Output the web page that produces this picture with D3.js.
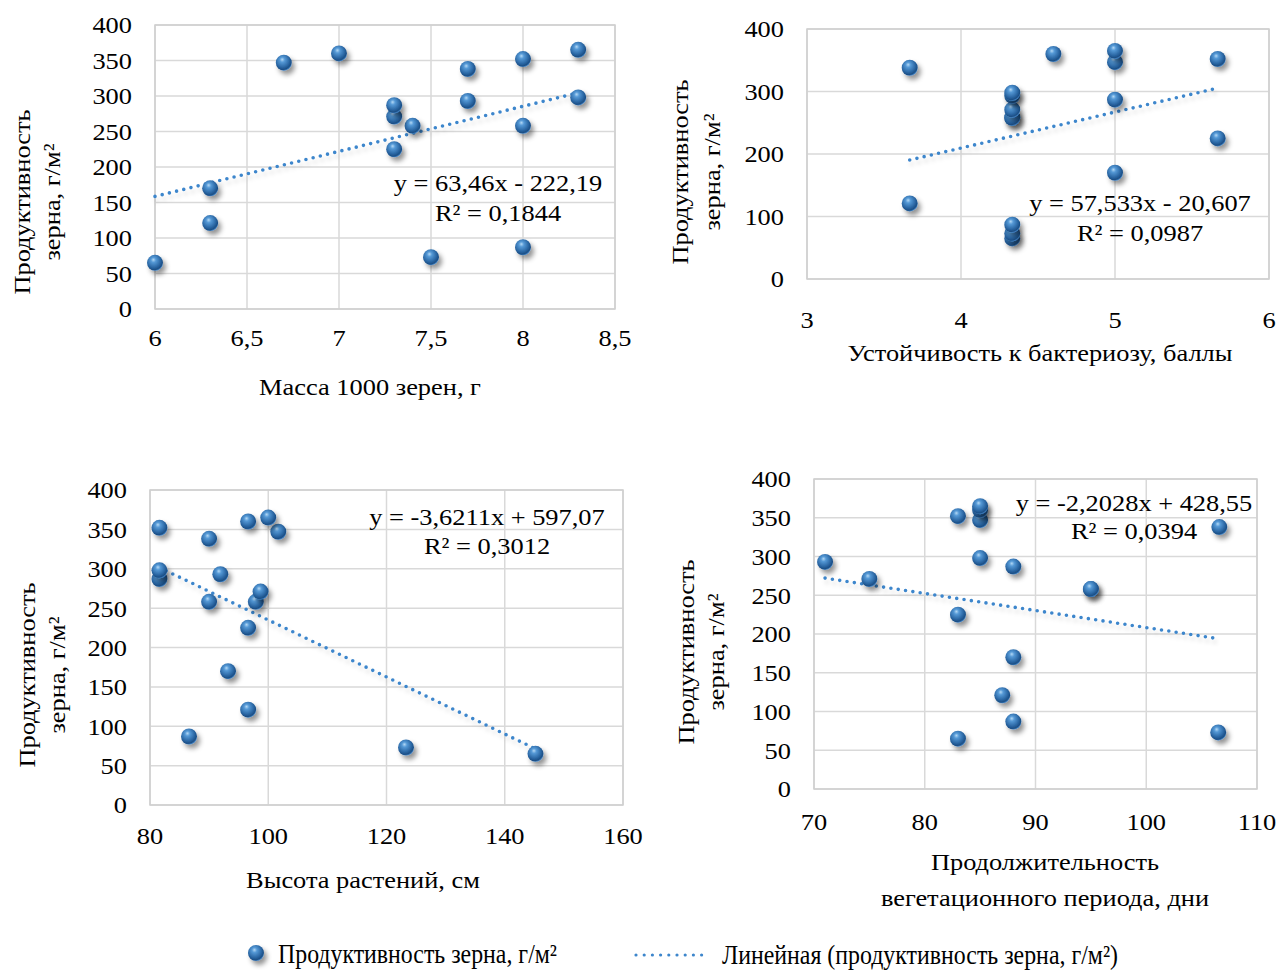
<!DOCTYPE html>
<html>
<head>
<meta charset="utf-8">
<script src="https://cdn.jsdelivr.net/npm/d3@7"></script>
<style>
  body { margin: 0; background: #fff; }
  svg { display: block; font-family: "Liberation Serif", "Times New Roman", serif; }
</style>
</head>
<body>
<svg id="chart" width="1279" height="970"></svg>
<script>
// ---- data ----
const productivity      = [65, 73, 87, 121, 170, 225, 258, 258, 271, 287, 293, 298, 338, 347, 352, 360, 365];
const kernelMass        = [6.0, 7.5, 8.0, 6.3, 6.3, 7.3, 7.4, 8.0, 7.3, 7.3, 7.7, 8.3, 7.7, 6.7, 8.0, 7.0, 8.3];
const bacteriosis       = [4.333, 4.333, 4.333, 3.667, 5.0, 5.667, 4.333, 4.333, 4.333, 5.0, 4.333, 4.333, 3.667, 5.0, 5.667, 4.6, 5.0];
const plantHeight       = [145.2, 123.3, 86.6, 96.6, 93.2, 96.6, 97.9, 90.0, 98.7, 81.6, 91.9, 81.6, 90.0, 101.7, 81.6, 96.6, 100.0];
const vegetationPeriod  = [83, 106.5, 88, 87, 88, 83, 95, 95, 75, 88, 71, 85, 106.6, 85, 83, 85, 85];

const yTicks = [0, 50, 100, 150, 200, 250, 300, 350, 400];
const yTicks100 = [0, 100, 200, 300, 400];
const xTicks1 = [6, 6.5, 7, 7.5, 8, 8.5];
const xTicks2 = [3, 4, 5, 6];
const xTicks3 = [80, 100, 120, 140, 160];
const xTicks4 = [70, 80, 90, 100, 110];

const slopes     = [63.46, 57.533, -3.6211, -2.2028];
const intercepts = [-222.19, -20.607, 597.07, 428.55];
const eqLabels   = ["y = 63,46x - 222,19", "y = 57,533x - 20,607", "y = -3,6211x + 597,07", "y = -2,2028x + 428,55"];
const r2Labels   = ["R² = 0,1844", "R² = 0,0987", "R² = 0,3012", "R² = 0,0394"];

const yTitle = ["Продуктивность", "зерна, г/м²"];
const xTitles = [["Масса 1000 зерен, г"], ["Устойчивость к бактериозу, баллы"], ["Высота растений, см"], ["Продолжительность", "вегетационного периода, дни"]];
const legendLabels = ["Продуктивность зерна, г/м²", "Линейная (продуктивность зерна, г/м²)"];

const fmt = d => String(d).replace(".", ",");

// ---- layout ----
const panels = [
  { xs: kernelMass, xDom: [6, 8.5], xTicks: xTicks1, yT: yTicks, box: [155, 615, 25, 309],
    xLabY: 338, xTitleY: [387], xTitleX: 370, yTitleX: [22, 52], yTitleY: 202, eqX: 498, eqY: [183, 213] },
  { xs: bacteriosis, xDom: [3, 6], xTicks: xTicks2, yT: yTicks100, box: [807, 1269, 29, 279],
    xLabY: 320, xTitleY: [353], xTitleX: 1040, yTitleX: [680, 712], yTitleY: 172, eqX: 1140, eqY: [203, 233] },
  { xs: plantHeight, xDom: [80, 160], xTicks: xTicks3, yT: yTicks, box: [150, 623, 490, 805],
    xLabY: 836, xTitleY: [880], xTitleX: 363, yTitleX: [27, 57], yTitleY: 675, eqX: 487, eqY: [517, 546] },
  { xs: vegetationPeriod, xDom: [70, 110], xTicks: xTicks4, yT: yTicks, box: [814, 1257, 479, 789],
    xLabY: 822, xTitleY: [862, 898], xTitleX: 1045, yTitleX: [686, 716], yTitleY: 652, eqX: 1134, eqY: [503, 531] }
];

const svg = d3.select("#chart");
const defs = svg.append("defs");
const grad = defs.append("radialGradient").attr("id", "sphere")
  .attr("cx", "42%").attr("cy", "38%").attr("r", "62%").attr("fx", "40%").attr("fy", "30%");
grad.append("stop").attr("offset", "0%").attr("stop-color", "#b3d8f5");
grad.append("stop").attr("offset", "25%").attr("stop-color", "#5599d6");
grad.append("stop").attr("offset", "70%").attr("stop-color", "#2a66a3");
grad.append("stop").attr("offset", "90%").attr("stop-color", "#1c4f86");
grad.append("stop").attr("offset", "100%").attr("stop-color", "#3f7fbf");
const sh = defs.append("filter").attr("id", "shadow").attr("x", "-60%").attr("y", "-60%").attr("width", "240%").attr("height", "240%");
sh.append("feDropShadow").attr("dx", 3).attr("dy", 4).attr("stdDeviation", 2.6).attr("flood-color", "#000").attr("flood-opacity", 0.42);
const lsh = defs.append("filter").attr("id", "lshadow").attr("x", "-10%").attr("y", "-50%").attr("width", "120%").attr("height", "200%");
lsh.append("feDropShadow").attr("dx", 2).attr("dy", 4).attr("stdDeviation", 2).attr("flood-color", "#000").attr("flood-opacity", 0.15);

const FS = 24;
const SX = 1.1;
const gridColor = "#d9d9d9";

function label(g, x, y, s, anchor, rot) {
  return g.append("text")
    .attr("transform", `translate(${x},${y})${rot ? " rotate(-90)" : ""} scale(${SX},1)`)
    .attr("dy", "0.35em").attr("text-anchor", anchor).attr("font-size", FS).attr("fill", "#000").text(s);
}

panels.forEach((p, i) => {
  const [x0, x1, y0, y1] = p.box;
  const x = d3.scaleLinear().domain(p.xDom).range([x0, x1]);
  const y = d3.scaleLinear().domain([0, 400]).range([y1, y0]);
  const g = svg.append("g");

  // grid
  g.selectAll(".hg").data(p.yT).join("line")
    .attr("x1", x0).attr("x2", x1).attr("y1", d => y(d)).attr("y2", d => y(d))
    .attr("stroke", gridColor).attr("stroke-width", 1.5);
  g.selectAll(".vg").data(p.xTicks).join("line")
    .attr("x1", d => x(d)).attr("x2", d => x(d)).attr("y1", y0).attr("y2", y1)
    .attr("stroke", gridColor).attr("stroke-width", 1.5);
  g.append("rect").attr("x", x0).attr("y", y0).attr("width", x1 - x0).attr("height", y1 - y0)
    .attr("fill", "none").attr("stroke", "#cfcfcf").attr("stroke-width", 1.5);

  // tick labels
  p.yT.forEach(d => label(g, x0 - 23, y(d), d, "end"));
  p.xTicks.forEach(d => label(g, x(d), p.xLabY, fmt(d), "middle"));

  // axis titles
  yTitle.forEach((t, k) => label(g, p.yTitleX[k], p.yTitleY, t, "middle", true));
  xTitles[i].forEach((t, k) => label(g, p.xTitleX, p.xTitleY[k], t, "middle"));

  // trend line
  const xmin = d3.min(p.xs), xmax = d3.max(p.xs);
  const f = v => slopes[i] * v + intercepts[i];
  g.append("line")
    .attr("x1", x(xmin)).attr("y1", y(f(xmin))).attr("x2", x(xmax)).attr("y2", y(f(xmax)))
    .attr("stroke", "#3d86cc").attr("stroke-width", 3.6).attr("stroke-linecap", "round")
    .attr("stroke-dasharray", "0 7.4").attr("filter", "url(#lshadow)");

  // points
  const pts = p.xs.map((v, k) => ({ x: v, y: productivity[k] }));
  g.selectAll(".pt").data(pts).join("circle")
    .attr("cx", d => x(d.x)).attr("cy", d => y(d.y)).attr("r", 8)
    .attr("fill", "url(#sphere)").attr("filter", "url(#shadow)");

  // equation
  label(g, p.eqX, p.eqY[0], eqLabels[i], "middle");
  label(g, p.eqX, p.eqY[1], r2Labels[i], "middle");
});

// legend
const lg = svg.append("g");
lg.append("circle").attr("cx", 256).attr("cy", 953).attr("r", 8)
  .attr("fill", "url(#sphere)").attr("filter", "url(#shadow)");
lg.append("text").attr("x", 278).attr("y", 954).attr("dy", "0.35em").attr("font-size", 27)
  .attr("textLength", 279).attr("lengthAdjust", "spacingAndGlyphs").text(legendLabels[0]);
lg.append("line").attr("x1", 636).attr("x2", 702).attr("y1", 955).attr("y2", 955)
  .attr("stroke", "#3d86cc").attr("stroke-width", 3.2).attr("stroke-linecap", "round")
  .attr("stroke-dasharray", "0 8.2");
lg.append("text").attr("x", 722).attr("y", 955).attr("dy", "0.35em").attr("font-size", 27)
  .attr("textLength", 396).attr("lengthAdjust", "spacingAndGlyphs").text(legendLabels[1]);
</script>
</body>
</html>
